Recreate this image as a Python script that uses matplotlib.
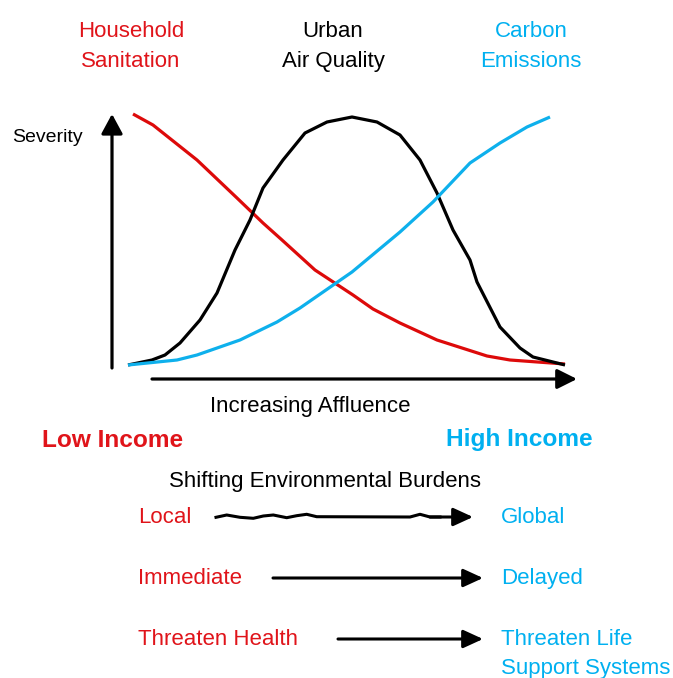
import matplotlib
matplotlib.use("Agg")
import matplotlib.pyplot as plt

plt.rcParams['font.family'] = ['Liberation Sans', 'DejaVu Sans']

RED = '#e0141a'
BLUE = '#00b0f0'
CURVE_RED = '#dd0a0a'
CURVE_BLUE = '#0eb0ec'

# Curves in canvas pixel coordinates (x right, y down)
sanitation_x = [133, 153, 197, 237, 263, 282, 315, 353, 373, 400, 437, 487, 510, 565]
sanitation_y = [114, 125, 160, 198, 223, 240, 270, 295, 309, 323, 340, 356, 360, 364]

air_x = [128, 152, 165, 180, 200, 217, 235, 250, 263, 283, 305, 327, 352, 377, 400,
         420, 437, 453, 470, 477, 500, 520, 533, 565]
air_y = [365, 360, 355, 343, 320, 293, 250, 220, 188, 160, 133, 122, 117, 122, 135,
         160, 193, 230, 260, 282, 327, 348, 357, 365]

carbon_x = [128, 177, 197, 240, 277, 300, 352, 400, 433, 470, 500, 527, 550]
carbon_y = [365, 360, 355, 340, 322, 308, 272, 232, 202, 163, 143, 127, 117]

wave_x = [216, 226.7, 240, 253.3, 263.3, 273.3, 286.7, 296.7, 306.7, 316.7, 410, 420, 430, 440]
wave_y = [517.3, 515, 517.3, 518.3, 516, 515, 517.7, 515.7, 514.3, 516.7, 517, 514.3, 517, 517]

top_labels = [("Household", "Sanitation"), ("Urban", "Air Quality"), ("Carbon", "Emissions")]
top_label_x = [131, 333, 531]
top_colors = [RED, 'black', BLUE]

left_terms = ["Local", "Immediate", "Threaten Health"]
right_terms = ["Global", "Delayed", "Threaten Life"]
row_y = [523, 584, 645]
arrow_start = [430, 273, 338]

fig = plt.figure(figsize=(6.73, 6.78), dpi=100)
ax = fig.add_axes([0, 0, 1, 1])
ax.set_xlim(0, 673)
ax.set_ylim(678, 0)
ax.axis('off')

lw = 2.3
ax.plot(sanitation_x, sanitation_y, color=CURVE_RED, lw=lw, solid_capstyle='butt')
ax.plot(air_x, air_y, color='black', lw=lw, solid_capstyle='butt')
ax.plot(carbon_x, carbon_y, color=CURVE_BLUE, lw=lw, solid_capstyle='butt')

# axes arrows
ax.annotate('', xy=(112, 114), xytext=(112, 368),
            arrowprops=dict(arrowstyle='-|>,head_length=12,head_width=6.5', mutation_scale=1,
                            lw=2.3, color='black', shrinkA=0, shrinkB=0))
ax.annotate('', xy=(577, 379), xytext=(152, 379),
            arrowprops=dict(arrowstyle='-|>,head_length=12,head_width=6', mutation_scale=1,
                            lw=2.3, color='black', shrinkA=0, shrinkB=0))

fs = 16
for (l1, l2), x, c in zip(top_labels, top_label_x, top_colors):
    ax.text(x, 37, l1, color=c, fontsize=fs, ha='center', va='baseline')
    ax.text(x, 67, l2, color=c, fontsize=fs, ha='center', va='baseline')

ax.text(12, 142, "Severity", fontsize=14, ha='left', va='baseline')
ax.text(310, 412, "Increasing Affluence", fontsize=fs, ha='center', va='baseline')
ax.text(42, 447, "Low Income", fontsize=17.6, fontweight='bold', color=RED, ha='left', va='baseline')
ax.text(446, 446, "High Income", fontsize=17.6, fontweight='bold', color=BLUE, ha='left', va='baseline')
ax.text(325, 487, "Shifting Environmental Burdens", fontsize=fs, ha='center', va='baseline')

for lt, rt, y in zip(left_terms, right_terms, row_y):
    ax.text(138, y, lt, color=RED, fontsize=fs, ha='left', va='baseline')
    ax.text(501, y, rt, color=BLUE, fontsize=fs, ha='left', va='baseline')
ax.text(501, 674, "Support Systems", color=BLUE, fontsize=fs, ha='left', va='baseline')

ax.plot(wave_x, wave_y, color='black', lw=2.2)
for xs, y in zip(arrow_start, row_y):
    ya = y - 6
    ax.annotate('', xy=(483 if xs != 430 else 473, ya), xytext=(xs, ya),
                arrowprops=dict(arrowstyle='-|>,head_length=12,head_width=5.5', mutation_scale=1,
                                lw=2.2, color='black', shrinkA=0, shrinkB=0))

fig.savefig('out.png', dpi=100)
